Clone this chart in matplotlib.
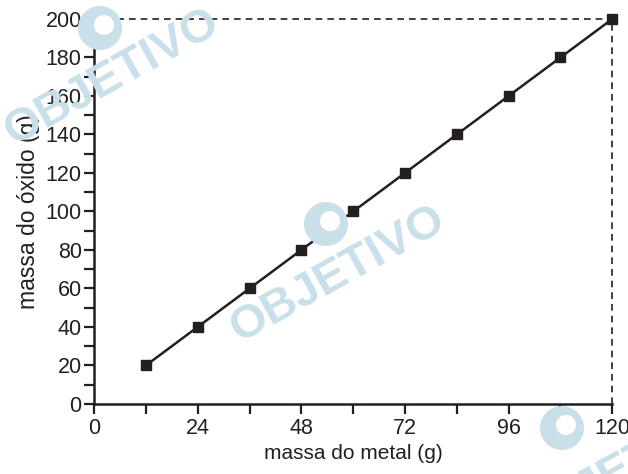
import matplotlib
matplotlib.use("Agg")
import matplotlib.pyplot as plt
from matplotlib.ticker import MultipleLocator
from matplotlib.patches import Circle

plt.rcParams['font.family'] = ['Liberation Sans', 'DejaVu Sans']

# massa do metal (g) x massa do oxido (g)
massa_metal = [12, 24, 36, 48, 60, 72, 84, 96, 108, 120]
massa_oxido = [20, 40, 60, 80, 100, 120, 140, 160, 180, 200]
x_ticks = [0, 24, 48, 72, 96, 120]
y_ticks = [0, 20, 40, 60, 80, 100, 120, 140, 160, 180, 200]

fig = plt.figure(figsize=(6.28, 4.74), dpi=100)
ax = fig.add_axes([0.150, 0.148, 0.825, 0.812])

# watermark "OBJETIVO": text centre and logo centre, in pixels from top-left
wm = "#c9dfe9"
marks = [((112, 78), (100, 28)), ((338, 275), (326, 224)), ((622, 470), (562, 428))]
for (px, py), (cx, cy) in marks:
    fig.text(px / 628, 1 - py / 474, "OBJETIVO", color=wm, fontsize=34,
             fontweight='bold', rotation=29, ha='center', va='center', zorder=0)
    fig.patches.append(Circle((cx, 474 - cy), 22, transform=None,
                              facecolor=wm, edgecolor='none', zorder=0))
    fig.patches.append(Circle((cx + 4, 474 - cy + 3), 10, transform=None,
                              facecolor='white', edgecolor='none', zorder=0))

ax.set_facecolor('none')
ax.plot(massa_metal, massa_oxido, color='#231f20', lw=1.8, marker='s',
        markersize=7, markerfacecolor='#231f20', markeredgecolor='#231f20',
        zorder=3, clip_on=False)
ax.plot([0, 120], [200, 200], color='#231f20', lw=1.2, ls=(0, (4, 3)), clip_on=False)
ax.plot([120, 120], [0, 200], color='#231f20', lw=1.2, ls=(0, (4, 3)), clip_on=False)

ax.set_xlim(0, 120)
ax.set_ylim(0, 200)
ax.set_xticks(x_ticks)
ax.set_yticks(y_ticks)
ax.xaxis.set_minor_locator(MultipleLocator(12))
ax.yaxis.set_minor_locator(MultipleLocator(10))
for s in ['top', 'right']:
    ax.spines[s].set_visible(False)
for s in ['left', 'bottom']:
    ax.spines[s].set_linewidth(1.8)
    ax.spines[s].set_color('#231f20')
ax.tick_params(which='both', direction='out', length=7, width=1.6, color='#231f20',
               labelsize=15.5, labelcolor='#231f20')
ax.tick_params(axis='x', pad=3)
ax.tick_params(axis='y', pad=2)

ax.set_xlabel("massa do metal (g)", fontsize=15, color='#231f20', labelpad=4)
ax.set_ylabel("massa do óxido (g)", fontsize=16.5, color='#231f20', labelpad=4)

fig.savefig("out.png", dpi=100)
